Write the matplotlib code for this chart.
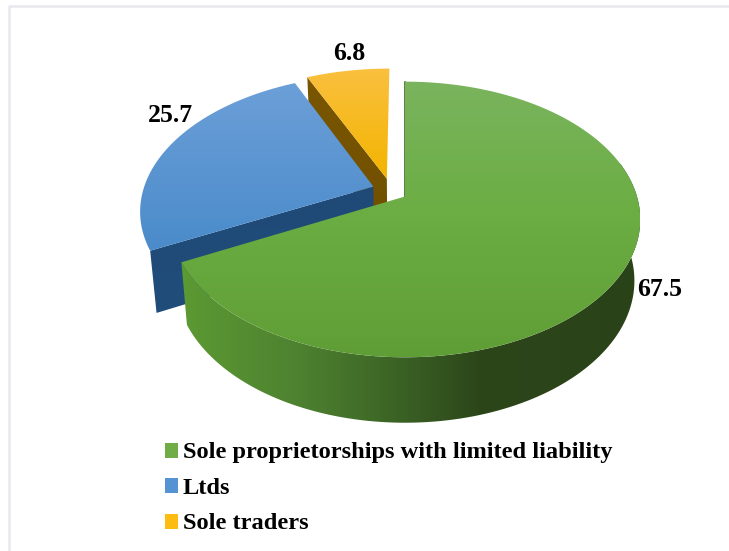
import numpy as np
import matplotlib
matplotlib.use('Agg')
import matplotlib.pyplot as plt
from matplotlib.colors import LinearSegmentedColormap
from matplotlib.patches import Polygon, Rectangle

categories = ['Sole proprietorships with limited liability', 'Ltds', 'Sole traders']
shares = [67.5, 25.7, 6.8]
share_labels = ['67.5', '25.7', '6.8']
swatch_colors = ['#70ad47', '#5593d3', '#fdbc12']

plt.rcParams['font.family'] = ['Liberation Serif', 'DejaVu Serif']
plt.rcParams['font.weight'] = 'bold'

fig = plt.figure(figsize=(7.29, 5.51), dpi=100)
ax = fig.add_axes([0, 0, 1, 1])

# perspective of the pie, units are pixels of the figure
CX, CY = 405, 196.5
RX, RY, K = 232, 134, 0.1667
DROP, BASE_X, BASE_Y = 60.6, 0.975, 1.03


def project(px, py, base=False):
    w = 1 + K * py
    x = RX * px / w
    y = -RY * py / w
    if base:
        return CX + BASE_X * x, CY + DROP + BASE_Y * y
    return CX + x, CY + y


def rim(a0, a1, off, base=False):
    # angles clockwise from the top of the pie, in degrees
    t = np.radians(np.linspace(a0, a1, 120))
    return project(np.sin(t) + off[0], np.cos(t) + off[1], base)


def gradient_fill(pts, stops, horizontal=False, zorder=1):
    pts = np.array(pts)
    x0, x1 = pts[:, 0].min(), pts[:, 0].max()
    y0, y1 = pts[:, 1].min(), pts[:, 1].max()
    cmap = LinearSegmentedColormap.from_list('g', stops)
    ramp = np.linspace(0, 1, 256)
    ramp = ramp.reshape(1, -1) if horizontal else ramp.reshape(-1, 1)
    im = ax.imshow(ramp, cmap=cmap, extent=(x0, x1, y1, y0), aspect='auto', zorder=zorder,
                   interpolation='bilinear')
    patch = Polygon(pts, closed=True, fc='none', ec='none', zorder=zorder)
    ax.add_patch(patch)
    im.set_clip_path(patch)


def outer_wall(a0, a1, off):
    xt, yt = rim(a0, a1, off)
    xb, yb = rim(a0, a1, off, base=True)
    return list(zip(xt, yt)) + list(zip(xb[::-1], yb[::-1]))


def radial_wall(angle, off):
    xt, yt = rim(angle, angle, off)
    xb, yb = rim(angle, angle, off, base=True)
    ax_t = project(off[0], off[1])
    ax_b = project(off[0], off[1], base=True)
    return [(xt[0], yt[0]), ax_t, ax_b, (xb[0], yb[0])]


def wedge(a0, a1, off):
    x, y = rim(a0, a1, off)
    return list(zip(x, y)) + [project(off[0], off[1])]


a_green = shares[0] / 100 * 360
a_blue = a_green + shares[1] / 100 * 360
off_green = (0, 0)
off_blue = (-0.138, 0.075)
off_yellow = (-0.08, 0.135)

# yellow slice, furthest back
gradient_fill(radial_wall(a_blue, off_yellow), ['#7a5600', '#6f4f00'], zorder=1)
gradient_fill(wedge(a_blue, 360, off_yellow), ['#fac03f', '#f3b400'], zorder=2)

# blue slice
gradient_fill(radial_wall(a_green, off_blue), ['#1f4a78', '#214d7b'], zorder=4)
gradient_fill(wedge(a_green, a_blue, off_blue), ['#6c9fd8', '#4a8bca'], zorder=5)

# green slice
xe, ye = project(0, 0)
ax.plot([xe, xe], [ye, CY - 115], color='#3f6a2a', lw=1.2, zorder=6)
side_stops = [(0, '#5c9a33'), (0.25, '#4e8230'), (0.45, '#3d6626'), (0.65, '#2c461a'), (1, '#2a4218')]
gradient_fill(outer_wall(75, a_green, off_green), side_stops, horizontal=True, zorder=7)
gradient_fill(wedge(0, a_green, off_green), ['#7ab45e', '#6bad42', '#5f9e36'], zorder=8)

# value labels
ax.text(637, 296, share_labels[0], fontsize=18.5, ha='left', va='baseline', zorder=10)
ax.text(148, 122, share_labels[1], fontsize=18.5, ha='left', va='baseline', zorder=10)
ax.text(333, 60, share_labels[2], fontsize=18.5, ha='left', va='baseline', zorder=10)

# legend entries
swatch_y = [443, 478, 514]
text_y = [458, 494, 529]
for name, col, sy, ty in zip(categories, swatch_colors, swatch_y, text_y):
    ax.add_patch(Rectangle((165, sy), 13, 14.5, fc=col, ec='none', zorder=10))
    ax.text(183, ty, name, fontsize=17.6, ha='left', va='baseline', zorder=10)

# thin border round the slide
ax.plot([9, 9, 729], [551, 6, 6], color='#e8e8ee', lw=1.8, zorder=0)

ax.set_xlim(0, 729)
ax.set_ylim(551, 0)
ax.axis('off')
fig.savefig('out.png', dpi=100)
